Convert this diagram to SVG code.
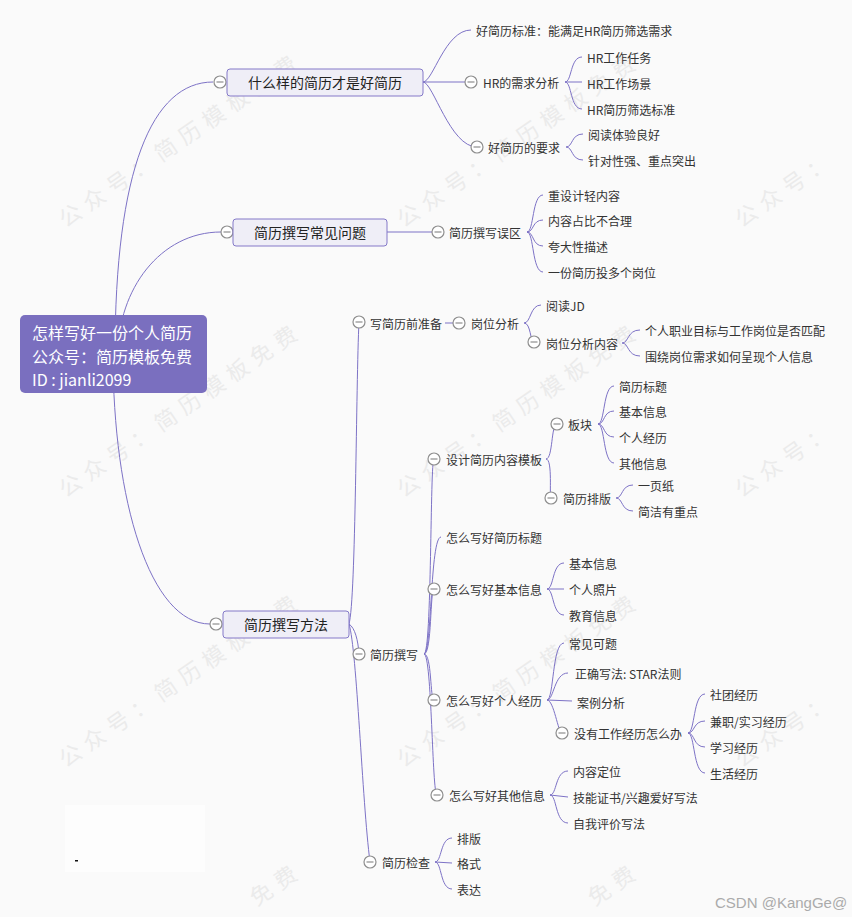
<svg xmlns="http://www.w3.org/2000/svg" width="852" height="917" viewBox="0 0 852 917">
<style>
text{font-family:"Noto Sans CJK SC","Noto Sans",sans-serif;dominant-baseline:central}
.bg{fill:#fafafa}
.wm{font-size:22px;fill:#ebebeb;letter-spacing:7px}
.c{fill:none;stroke:#7d72c6;stroke-width:1}
.t{font-size:12px;fill:#333}
.b{fill:#efeef7;stroke:#8479c8;stroke-width:1}
.bt{font-size:14px;fill:#222;text-anchor:middle}
.rt{font-size:16px;fill:#fff}
.tg circle{fill:#fff;stroke:#8e8e8e;stroke-width:1.2}
.tg line{stroke:#8e8e8e;stroke-width:1.2}
</style>
<defs>
<g id="tog" class="tg"><circle r="6"/><line x1="-3.5" y1="0" x2="3.5" y2="0"/></g>
</defs>
<rect class="bg" x="0" y="0" width="852" height="917"/>
<g id="watermarks">
<text class="wm" transform="translate(60,220) rotate(-34.5)">公众号：简历模板免费</text>
<text class="wm" transform="translate(398,220) rotate(-34.5)">公众号：简历模板免费</text>
<text class="wm" transform="translate(736,220) rotate(-34.5)">公众号：</text>
<text class="wm" transform="translate(60,490) rotate(-34.5)">公众号：简历模板免费</text>
<text class="wm" transform="translate(398,490) rotate(-34.5)">公众号：简历模板免费</text>
<text class="wm" transform="translate(736,490) rotate(-34.5)">公众号：</text>
<text class="wm" transform="translate(60,760) rotate(-34.5)">公众号：简历模板免费</text>
<text class="wm" transform="translate(398,760) rotate(-34.5)">公众号：简历模板免费</text>
<text class="wm" transform="translate(736,760) rotate(-34.5)">公众号：</text>
<text class="wm" transform="translate(60,1030) rotate(-34.5)" x="232">免费</text>
<text class="wm" transform="translate(398,1030) rotate(-34.5)" x="232">免费</text>
</g>
<rect x="65" y="805" width="140" height="67" fill="#fdfdfd"/>
<rect x="75" y="860" width="3" height="1.5" fill="#111"/>
<g id="connectors">
<path class="c" d="M115,354 C115,170 152,82 213,82"/>
<path class="c" d="M118,354 C118,290 160,232 221,232"/>
<path class="c" d="M113,354 C113,500 150,624 210,624"/>
<path class="c" d="M423,82 C433,82 445,30 471,30"/>
<path class="c" d="M423,82 L465,82"/>
<path class="c" d="M423,82 C433,82 450,147 477,147"/>
<path class="c" d="M565,82 C572,82 570,57 582,57"/>
<path class="c" d="M565,82 L582,82"/>
<path class="c" d="M565,82 C572,82 570,109 582,109"/>
<path class="c" d="M566,147 C573,147 571,134 583,134"/>
<path class="c" d="M566,147 C573,147 571,160 583,160"/>
<path class="c" d="M387,232 L432,232"/>
<path class="c" d="M527,232 C534,232 532,195 543,195"/>
<path class="c" d="M527,232 C534,232 532,220 543,220"/>
<path class="c" d="M527,232 C534,232 532,246 543,246"/>
<path class="c" d="M527,232 C534,232 532,272 543,272"/>
<path class="c" d="M349,624 C356,600 356,380 359,322"/>
<path class="c" d="M349,624 C355,628 358,640 359,654"/>
<path class="c" d="M349,624 C357,650 362,800 370,862"/>
<path class="c" d="M445,323 L453,323"/>
<path class="c" d="M524,323 C531,323 530,305 541,305"/>
<path class="c" d="M524,323 C531,323 530,342 534,342"/>
<path class="c" d="M622,343 C629,343 627,330 640,330"/>
<path class="c" d="M622,343 C629,343 627,356 640,356"/>
<path class="c" d="M424,654 C432,654 430,459 434,459"/>
<path class="c" d="M424,654 C432,654 430,537 441,537"/>
<path class="c" d="M424,654 C432,654 430,589 434,589"/>
<path class="c" d="M424,654 C432,654 430,700 434,700"/>
<path class="c" d="M424,654 C432,654 432,795 437,795"/>
<path class="c" d="M546,459 C553,459 551,424 557,424"/>
<path class="c" d="M546,459 C553,459 549,498 551,498"/>
<path class="c" d="M598,424 C605,424 603,386 614,386"/>
<path class="c" d="M598,424 C605,424 603,411 614,411"/>
<path class="c" d="M598,424 C605,424 603,437 614,437"/>
<path class="c" d="M598,424 C605,424 603,463 614,463"/>
<path class="c" d="M616,498 C623,498 621,485 633,485"/>
<path class="c" d="M616,498 C623,498 621,511 633,511"/>
<path class="c" d="M547,589 C554,589 552,563 564,563"/>
<path class="c" d="M547,589 L564,589"/>
<path class="c" d="M547,589 C554,589 552,615 564,615"/>
<path class="c" d="M547,700 C554,700 552,643 564,643"/>
<path class="c" d="M547,700 C554,700 554,673 568,673"/>
<path class="c" d="M547,700 L572,701"/>
<path class="c" d="M547,700 C554,700 558,733 562,733"/>
<path class="c" d="M688,733 C695,733 693,694 705,694"/>
<path class="c" d="M688,733 C695,733 693,721 705,721"/>
<path class="c" d="M688,733 C695,733 693,747 705,747"/>
<path class="c" d="M688,733 C695,733 693,773 705,773"/>
<path class="c" d="M550,795 C557,795 555,771 568,771"/>
<path class="c" d="M550,795 L568,797"/>
<path class="c" d="M550,795 C557,795 555,823 568,823"/>
<path class="c" d="M435,862 C442,862 440,838 452,838"/>
<path class="c" d="M435,862 L452,863"/>
<path class="c" d="M435,862 C442,862 440,889 452,889"/>
</g>
<g id="root">
<rect x="20" y="315" width="187" height="78" rx="5" fill="#7a6fbf"/>
<text class="rt" x="32" y="332">怎样写好一份个人简历</text>
<text class="rt" x="32" y="356">公众号：简历模板免费</text>
<text class="rt" x="32" y="379">ID : jianli2099</text>
</g>
<g id="n1">
<use href="#tog" x="220" y="82"/>
<rect class="b" x="227" y="69" width="196" height="27" rx="3"/>
<text class="bt" x="325" y="82">什么样的简历才是好简历</text>
</g>
<g id="n1-1"><text class="t" x="476" y="30">好简历标准：能满足HR简历筛选需求</text></g>
<g id="n1-2"><use href="#tog" x="471" y="82"/><text class="t" x="483" y="82">HR的需求分析</text></g>
<g id="n1-2-1"><text class="t" x="587" y="57">HR工作任务</text></g>
<g id="n1-2-2"><text class="t" x="587" y="83">HR工作场景</text></g>
<g id="n1-2-3"><text class="t" x="587" y="109">HR简历筛选标准</text></g>
<g id="n1-3"><use href="#tog" x="477" y="147"/><text class="t" x="488" y="147">好简历的要求</text></g>
<g id="n1-3-1"><text class="t" x="588" y="134">阅读体验良好</text></g>
<g id="n1-3-2"><text class="t" x="588" y="160">针对性强、重点突出</text></g>
<g id="n2">
<use href="#tog" x="227" y="232"/>
<rect class="b" x="233" y="219" width="154" height="27" rx="3"/>
<text class="bt" x="310" y="232">简历撰写常见问题</text>
</g>
<g id="n2-1"><use href="#tog" x="438" y="232"/><text class="t" x="449" y="232">简历撰写误区</text></g>
<g id="n2-1-1"><text class="t" x="548" y="195">重设计轻内容</text></g>
<g id="n2-1-2"><text class="t" x="548" y="220">内容占比不合理</text></g>
<g id="n2-1-3"><text class="t" x="548" y="246">夸大性描述</text></g>
<g id="n2-1-4"><text class="t" x="548" y="272">一份简历投多个岗位</text></g>
<g id="n3">
<use href="#tog" x="216" y="624"/>
<rect class="b" x="223" y="611" width="126" height="27" rx="3"/>
<text class="bt" x="286" y="624">简历撰写方法</text>
</g>
<g id="n3-1"><use href="#tog" x="359" y="322"/><text class="t" x="370" y="323">写简历前准备</text></g>
<g id="n3-1-1"><use href="#tog" x="459" y="323"/><text class="t" x="471" y="323">岗位分析</text></g>
<g id="n3-1-1-1"><text class="t" x="546" y="305">阅读JD</text></g>
<g id="n3-1-1-2"><use href="#tog" x="534" y="342"/><text class="t" x="546" y="343">岗位分析内容</text></g>
<g id="n3-1-1-2-1"><text class="t" x="645" y="330">个人职业目标与工作岗位是否匹配</text></g>
<g id="n3-1-1-2-2"><text class="t" x="645" y="356">围绕岗位需求如何呈现个人信息</text></g>
<g id="n3-2"><use href="#tog" x="359" y="654"/><text class="t" x="370" y="654">简历撰写</text></g>
<g id="n3-2-1"><use href="#tog" x="434" y="459"/><text class="t" x="446" y="459">设计简历内容模板</text></g>
<g id="n3-2-1-1"><use href="#tog" x="557" y="424"/><text class="t" x="568" y="424">板块</text></g>
<g id="n3-2-1-1-1"><text class="t" x="619" y="386">简历标题</text></g>
<g id="n3-2-1-1-2"><text class="t" x="619" y="411">基本信息</text></g>
<g id="n3-2-1-1-3"><text class="t" x="619" y="437">个人经历</text></g>
<g id="n3-2-1-1-4"><text class="t" x="619" y="463">其他信息</text></g>
<g id="n3-2-1-2"><use href="#tog" x="551" y="498"/><text class="t" x="563" y="498">简历排版</text></g>
<g id="n3-2-1-2-1"><text class="t" x="638" y="485">一页纸</text></g>
<g id="n3-2-1-2-2"><text class="t" x="638" y="511">简洁有重点</text></g>
<g id="n3-2-2"><text class="t" x="446" y="537">怎么写好简历标题</text></g>
<g id="n3-2-3"><use href="#tog" x="434" y="589"/><text class="t" x="446" y="589">怎么写好基本信息</text></g>
<g id="n3-2-3-1"><text class="t" x="569" y="563">基本信息</text></g>
<g id="n3-2-3-2"><text class="t" x="569" y="589">个人照片</text></g>
<g id="n3-2-3-3"><text class="t" x="569" y="615">教育信息</text></g>
<g id="n3-2-4"><use href="#tog" x="434" y="700"/><text class="t" x="446" y="700">怎么写好个人经历</text></g>
<g id="n3-2-4-1"><text class="t" x="569" y="643">常见可题</text></g>
<g id="n3-2-4-2"><text class="t" x="575" y="673">正确写法: STAR法则</text></g>
<g id="n3-2-4-3"><text class="t" x="577" y="702">案例分析</text></g>
<g id="n3-2-4-4"><use href="#tog" x="562" y="733"/><text class="t" x="574" y="733">没有工作经历怎么办</text></g>
<g id="n3-2-4-4-1"><text class="t" x="710" y="694">社团经历</text></g>
<g id="n3-2-4-4-2"><text class="t" x="710" y="721">兼职/实习经历</text></g>
<g id="n3-2-4-4-3"><text class="t" x="710" y="747">学习经历</text></g>
<g id="n3-2-4-4-4"><text class="t" x="710" y="773">生活经历</text></g>
<g id="n3-2-5"><use href="#tog" x="437" y="795"/><text class="t" x="449" y="795">怎么写好其他信息</text></g>
<g id="n3-2-5-1"><text class="t" x="573" y="771">内容定位</text></g>
<g id="n3-2-5-2"><text class="t" x="573" y="797">技能证书/兴趣爱好写法</text></g>
<g id="n3-2-5-3"><text class="t" x="573" y="823">自我评价写法</text></g>
<g id="n3-3"><use href="#tog" x="370" y="862"/><text class="t" x="382" y="862">简历检查</text></g>
<g id="n3-3-1"><text class="t" x="457" y="838">排版</text></g>
<g id="n3-3-2"><text class="t" x="457" y="863">格式</text></g>
<g id="n3-3-3"><text class="t" x="457" y="889">表达</text></g>
<text x="715" y="902" style="font-family:'Liberation Sans',Arial,sans-serif;font-size:15px;fill:#ababab">CSDN @KangGe@</text>
</svg>
